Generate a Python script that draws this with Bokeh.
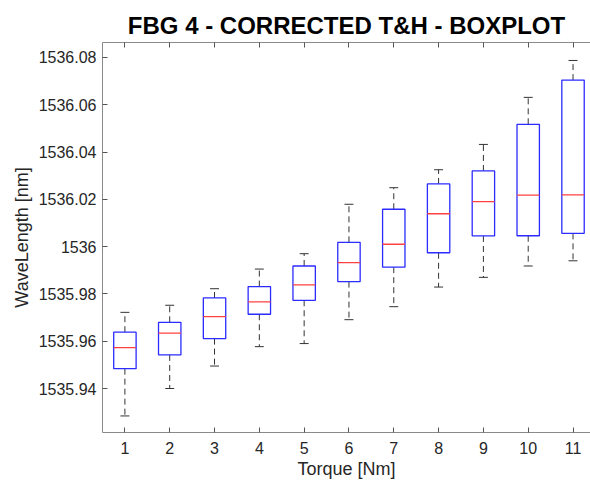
from bokeh.plotting import figure
from bokeh.models import ColumnDataSource, FixedTicker, CustomJSTickFormatter, LinearAxis, Range1d
from bokeh.embed import file_html
from bokeh.resources import INLINE

torque = [1, 2, 3, 4, 5, 6, 7, 8, 9, 10, 11]
lower = [1535.9284, 1535.9400, 1535.9495, 1535.9577, 1535.9590, 1535.9691, 1535.9746, 1535.9829, 1535.9870, 1535.9918, 1535.9940]
q1 = [1535.9484, 1535.9542, 1535.9611, 1535.9714, 1535.9773, 1535.9852, 1535.9913, 1535.9974, 1536.0045, 1536.0046, 1536.0056]
median = [1535.9573, 1535.9634, 1535.9704, 1535.9766, 1535.9838, 1535.9932, 1536.0010, 1536.0139, 1536.0190, 1536.0218, 1536.0219]
q3 = [1535.9638, 1535.9680, 1535.9783, 1535.9831, 1535.9918, 1536.0018, 1536.0158, 1536.0265, 1536.0320, 1536.0517, 1536.0704]
upper = [1535.9722, 1535.9752, 1535.9822, 1535.9905, 1535.9970, 1536.0179, 1536.0249, 1536.0325, 1536.0432, 1536.0631, 1536.0787]
y_ticks = [1535.94, 1535.96, 1535.98, 1536.00, 1536.02, 1536.04, 1536.06, 1536.08]

box_w = 0.5
cap_w = 0.2
y_start, y_end = 1535.9214, 1536.0863

src = ColumnDataSource(dict(
    x=torque, lower=lower, q1=q1, med=median, q3=q3, upper=upper,
    xl=[t - box_w / 2 for t in torque], xr=[t + box_w / 2 for t in torque],
    cl=[t - cap_w / 2 for t in torque], cr=[t + cap_w / 2 for t in torque],
))

p = figure(width=590, height=481, output_backend="svg", toolbar_location=None,
           x_range=Range1d(0.5, 11.39), y_range=Range1d(y_start, y_end),
           min_border_left=102, min_border_right=0, min_border_top=42, min_border_bottom=48,
           title="FBG 4 - CORRECTED T&H - BOXPLOT")

p.title.text_font = "Liberation Sans"
p.title.text_font_style = "bold"
p.title.text_font_size = "24px"
p.title.align = "center"
p.title.text_color = "#000000"
p.title.standoff = 7

p.grid.visible = False
p.outline_line_color = None
p.background_fill_color = "white"
p.border_fill_color = "white"

# whiskers
p.segment(x0="x", y0="q3", x1="x", y1="upper", source=src, line_color="#333333",
          line_width=1, line_dash="6 4")
p.segment(x0="x", y0="q1", x1="x", y1="lower", source=src, line_color="#333333",
          line_width=1, line_dash="6 4")
# caps
p.segment(x0="cl", y0="upper", x1="cr", y1="upper", source=src, line_color="#333333", line_width=1)
p.segment(x0="cl", y0="lower", x1="cr", y1="lower", source=src, line_color="#333333", line_width=1)
# boxes
p.quad(left="xl", right="xr", bottom="q1", top="q3", source=src, fill_color=None,
       line_color="#2b2bff", line_width=1.3)
# medians
p.segment(x0="xl", y0="med", x1="xr", y1="med", source=src, line_color="#ff4040", line_width=1.3)

label_color = "#262626"
for ax in (p.xaxis[0], p.yaxis[0]):
    ax.axis_line_color = "#8a8a8a"
    ax.major_tick_line_color = "#555555"
    ax.major_tick_in = 5
    ax.major_tick_out = 0
    ax.minor_tick_line_color = None
    ax.major_label_text_font = "Liberation Sans"
    ax.major_label_text_font_size = "16px"
    ax.major_label_text_color = label_color
    ax.axis_label_text_font = "Liberation Sans"
    ax.axis_label_text_font_size = "18px"
    ax.axis_label_text_font_style = "normal"
    ax.axis_label_text_color = label_color

p.xaxis[0].ticker = FixedTicker(ticks=torque)
p.xaxis[0].axis_label = "Torque [Nm]"
p.xaxis[0].major_label_standoff = 9
p.xaxis[0].axis_label_standoff = 2

p.yaxis[0].ticker = FixedTicker(ticks=y_ticks)
p.yaxis[0].formatter = CustomJSTickFormatter(code="return tick.toFixed(2).replace(/\\.?0+$/, '');")
p.yaxis[0].axis_label = "WaveLength [nm]"
p.yaxis[0].major_label_standoff = 6
p.yaxis[0].axis_label_standoff = 4

blank = CustomJSTickFormatter(code="return '';")
top_ax = LinearAxis(ticker=FixedTicker(ticks=torque), formatter=blank,
                    major_label_text_color=None, major_label_text_font_size="1px",
                    major_label_standoff=0, major_tick_in=5, major_tick_out=0,
                    minor_tick_line_color=None, axis_line_color="#8a8a8a",
                    major_tick_line_color="#555555")
p.add_layout(top_ax, "above")

open("out.html", "w").write(file_html(p, INLINE))
